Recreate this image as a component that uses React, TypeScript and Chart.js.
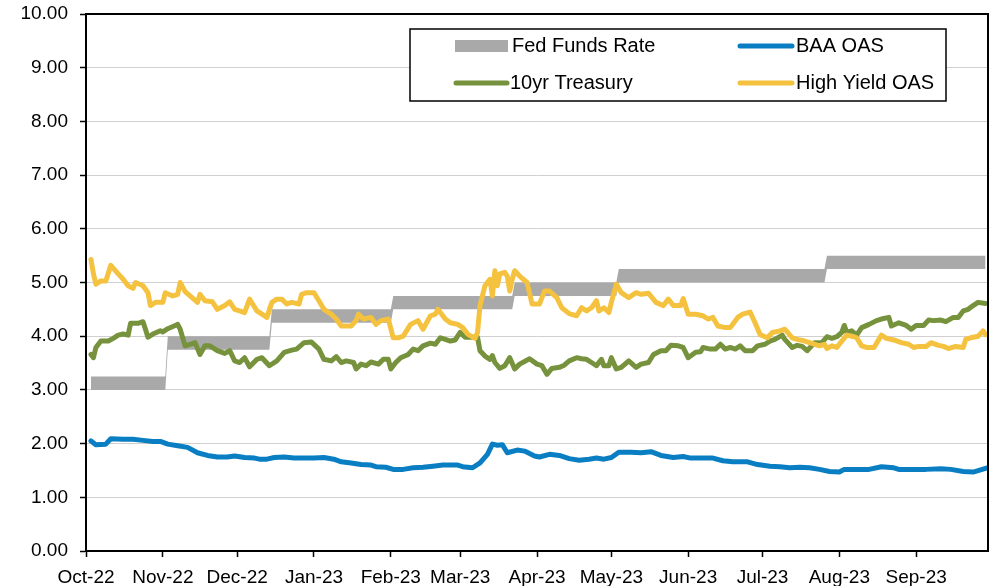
import React, { useEffect, useRef } from 'react';
import { Chart, registerables } from 'chart.js';

Chart.register(...registerables);

// X axis: days since 1 Oct 2022
const monthTickDays = [0, 31, 61, 92, 123, 151, 182, 212, 243, 273, 304, 335];
const monthTickLabels = ['Oct-22', 'Nov-22', 'Dec-22', 'Jan-23', 'Feb-23', 'Mar-23', 'Apr-23', 'May-23', 'Jun-23', 'Jul-23', 'Aug-23', 'Sep-23'];
const xMaxDay = 364;

// Fed Funds target range (lower / upper bound)
const fedDays = [2, 32, 33, 74, 75, 123, 124, 172, 173, 214, 215, 298, 299, 363];
const fedLower = [3.0, 3.0, 3.75, 3.75, 4.25, 4.25, 4.5, 4.5, 4.75, 4.75, 5.0, 5.0, 5.25, 5.25];
const fedUpper = [3.25, 3.25, 4.0, 4.0, 4.5, 4.5, 4.75, 4.75, 5.0, 5.0, 5.25, 5.25, 5.5, 5.5];

// BAA OAS
const baaDays = [2, 4, 8, 10, 15, 19, 23, 27, 30, 33, 37, 41, 45, 49, 53, 57, 60, 64, 68, 70, 73, 76, 80, 84, 88, 92, 96, 100, 103, 107, 111, 115, 117, 121, 124, 128, 132, 136, 140, 144, 150, 152, 156, 159, 162, 164, 166, 168, 170, 174, 177, 181, 183, 187, 191, 195, 199, 203, 206, 209, 212, 215, 220, 224, 228, 232, 237, 241, 244, 249, 253, 257, 261, 267, 271, 276, 280, 284, 288, 292, 296, 300, 304, 306, 311, 316, 321, 326, 328, 334, 339, 345, 349, 354, 358, 361, 364];
const baaValues = [2.05, 1.98, 1.99, 2.09, 2.08, 2.08, 2.06, 2.04, 2.04, 1.99, 1.96, 1.93, 1.83, 1.78, 1.75, 1.75, 1.77, 1.74, 1.73, 1.71, 1.71, 1.74, 1.75, 1.73, 1.73, 1.73, 1.74, 1.71, 1.66, 1.64, 1.61, 1.6, 1.57, 1.56, 1.52, 1.52, 1.55, 1.56, 1.58, 1.6, 1.6, 1.57, 1.55, 1.64, 1.8, 1.99, 1.97, 1.98, 1.83, 1.88, 1.86, 1.77, 1.75, 1.8, 1.78, 1.72, 1.69, 1.71, 1.73, 1.71, 1.74, 1.84, 1.84, 1.83, 1.85, 1.78, 1.74, 1.76, 1.73, 1.73, 1.73, 1.68, 1.66, 1.66, 1.61, 1.58, 1.57, 1.55, 1.56, 1.55, 1.52, 1.48, 1.47, 1.52, 1.52, 1.52, 1.57, 1.55, 1.52, 1.52, 1.52, 1.53, 1.52, 1.48, 1.47, 1.51, 1.55];

// 10yr Treasury
const tenDays = [2, 3, 4, 6, 9, 11, 13, 15, 17, 18, 21, 23, 24, 25, 27, 30, 31, 33, 36, 37, 38, 40, 42, 44, 46, 48, 50, 53, 56, 58, 60, 62, 64, 66, 69, 71, 74, 77, 80, 83, 85, 88, 91, 94, 96, 99, 101, 103, 105, 108, 109, 111, 113, 115, 118, 120, 122, 123, 125, 127, 130, 132, 134, 136, 139, 141, 143, 145, 147, 149, 151, 153, 155, 158, 159, 161, 163, 164, 165, 167, 169, 171, 173, 175, 179, 182, 184, 186, 188, 191, 193, 195, 198, 200, 202, 204, 206, 208, 209, 211, 212, 214, 216, 219, 222, 224, 227, 229, 232, 234, 236, 239, 241, 243, 246, 248, 249, 252, 254, 256, 258, 260, 262, 264, 266, 269, 271, 274, 276, 278, 281, 282, 285, 287, 289, 291, 294, 297, 299, 301, 303, 305, 306, 307, 309, 311, 313, 316, 319, 321, 324, 325, 328, 331, 333, 335, 338, 340, 342, 345, 347, 350, 352, 354, 356, 358, 360, 363];
const tenValues = [3.66, 3.6, 3.79, 3.91, 3.91, 3.96, 4.02, 4.04, 4.02, 4.24, 4.24, 4.27, 4.13, 3.98, 4.04, 4.1, 4.08, 4.14, 4.2, 4.22, 4.13, 3.82, 3.85, 3.88, 3.66, 3.82, 3.82, 3.73, 3.68, 3.73, 3.54, 3.51, 3.6, 3.43, 3.57, 3.6, 3.45, 3.54, 3.7, 3.74, 3.76, 3.88, 3.89, 3.76, 3.57, 3.54, 3.62, 3.51, 3.54, 3.51, 3.39, 3.48, 3.45, 3.52, 3.48, 3.57, 3.57, 3.39, 3.51, 3.6, 3.66, 3.76, 3.73, 3.82, 3.87, 3.85, 3.97, 3.94, 3.91, 3.93, 4.07, 3.98, 3.98, 3.98, 3.73, 3.63, 3.57, 3.64, 3.51, 3.4, 3.45, 3.6, 3.39, 3.48, 3.58, 3.48, 3.45, 3.29, 3.4, 3.42, 3.46, 3.54, 3.6, 3.58, 3.57, 3.51, 3.45, 3.57, 3.45, 3.45, 3.6, 3.39, 3.42, 3.54, 3.42, 3.48, 3.51, 3.66, 3.73, 3.73, 3.83, 3.82, 3.79, 3.6, 3.7, 3.71, 3.79, 3.76, 3.76, 3.85, 3.76, 3.79, 3.76, 3.82, 3.73, 3.73, 3.82, 3.85, 3.91, 3.94, 4.02, 3.94, 3.79, 3.83, 3.81, 3.73, 3.88, 3.88, 3.99, 3.96, 3.99, 4.07, 4.2, 4.07, 4.1, 4.02, 4.16, 4.22, 4.29, 4.32, 4.35, 4.19, 4.25, 4.2, 4.13, 4.2, 4.2, 4.3, 4.29, 4.3, 4.27, 4.35, 4.35, 4.47, 4.5, 4.57, 4.63, 4.61];

// High Yield OAS
const hyDays = [2, 3, 4, 6, 8, 10, 13, 15, 17, 19, 20, 23, 25, 26, 28, 31, 32, 35, 37, 38, 40, 42, 45, 46, 48, 51, 53, 56, 58, 60, 62, 64, 66, 69, 71, 73, 75, 77, 79, 81, 83, 86, 87, 89, 92, 94, 96, 99, 101, 103, 107, 109, 110, 112, 115, 117, 119, 122, 124, 126, 128, 131, 134, 136, 139, 141, 142, 145, 147, 150, 152, 154, 157, 158, 159, 161, 163, 164, 165, 166, 167, 169, 170, 171, 172, 173, 175, 178, 180, 183, 185, 187, 190, 192, 195, 198, 200, 202, 204, 206, 207, 209, 211, 212, 214, 216, 219, 222, 224, 227, 230, 233, 235, 237, 240, 241, 243, 246, 249, 251, 253, 255, 258, 260, 263, 265, 268, 270, 272, 275, 277, 280, 282, 285, 287, 290, 292, 296, 298, 299, 301, 303, 305, 307, 310, 311, 313, 315, 318, 321, 323, 326, 329, 332, 334, 336, 339, 341, 344, 346, 348, 351, 354, 355, 357, 360, 362, 363];
const hyValues = [5.43, 5.16, 4.97, 5.03, 5.03, 5.32, 5.16, 5.06, 4.94, 4.89, 5.0, 4.94, 4.81, 4.57, 4.63, 4.63, 4.81, 4.75, 4.78, 5.0, 4.83, 4.75, 4.63, 4.78, 4.66, 4.64, 4.5, 4.57, 4.64, 4.5, 4.47, 4.44, 4.69, 4.47, 4.41, 4.35, 4.63, 4.69, 4.69, 4.6, 4.63, 4.6, 4.78, 4.81, 4.81, 4.66, 4.5, 4.41, 4.32, 4.19, 4.19, 4.29, 4.41, 4.32, 4.35, 4.22, 4.29, 4.32, 3.97, 3.97, 4.0, 4.22, 4.29, 4.13, 4.38, 4.41, 4.5, 4.32, 4.25, 4.22, 4.16, 4.04, 3.96, 4.07, 4.57, 4.94, 5.06, 4.75, 5.22, 4.94, 5.16, 5.19, 5.12, 4.84, 5.06, 5.22, 5.12, 5.0, 4.6, 4.6, 4.84, 4.84, 4.72, 4.53, 4.42, 4.38, 4.53, 4.47, 4.53, 4.66, 4.47, 4.53, 4.44, 4.63, 4.97, 4.81, 4.72, 4.81, 4.78, 4.8, 4.63, 4.57, 4.69, 4.57, 4.57, 4.7, 4.41, 4.41, 4.38, 4.32, 4.35, 4.19, 4.16, 4.16, 4.35, 4.41, 4.45, 4.25, 4.03, 3.97, 4.07, 4.1, 4.13, 3.97, 3.94, 3.91, 3.88, 3.82, 3.85, 3.77, 3.82, 3.79, 3.91, 4.02, 3.99, 3.97, 3.82, 3.79, 3.79, 4.02, 3.96, 3.93, 3.88, 3.85, 3.79, 3.81, 3.81, 3.88, 3.83, 3.81, 3.77, 3.81, 3.79, 3.94, 3.97, 4.0, 4.1, 4.03];

const FONT = "'Liberation Sans', Arial, sans-serif";
const GRAY = '#A9A9A9';
const BLUE = '#0A7EC2';
const GREEN = '#76923C';
const YELLOW = '#F4C23E';

const toXY = (days: number[], vals: number[]) => days.map((d, i) => ({ x: d, y: vals[i] }));

const frameAndLegend = {
  id: 'frameAndLegend',
  afterDraw(chart: any) {
    const { ctx, chartArea } = chart;
    ctx.save();
    // top and right frame
    ctx.strokeStyle = '#000';
    ctx.lineWidth = 2;
    ctx.beginPath();
    ctx.moveTo(chartArea.left, chartArea.top);
    ctx.lineTo(chartArea.right, chartArea.top);
    ctx.lineTo(chartArea.right, chartArea.bottom);
    ctx.stroke();

    // legend box
    const bx = 410, by = 29, bw = 536, bh = 72;
    ctx.fillStyle = '#fff';
    ctx.fillRect(bx, by, bw, bh);
    ctx.lineWidth = 1.5;
    ctx.strokeStyle = '#000';
    ctx.strokeRect(bx, by, bw, bh);

    const row1 = 46, row2 = 83;
    ctx.font = `20px ${FONT}`;
    ctx.textBaseline = 'middle';
    ctx.textAlign = 'left';

    // Fed Funds swatch
    ctx.fillStyle = GRAY;
    ctx.fillRect(455, row1 - 6, 53, 12);
    ctx.fillStyle = '#000';
    ctx.fillText('Fed Funds Rate', 512, row1);

    const lineSwatch = (x1: number, x2: number, y: number, color: string) => {
      ctx.strokeStyle = color;
      ctx.lineWidth = 5;
      ctx.lineCap = 'round';
      ctx.beginPath();
      ctx.moveTo(x1, y);
      ctx.lineTo(x2, y);
      ctx.stroke();
    };
    lineSwatch(740, 792, row1, BLUE);
    ctx.fillStyle = '#000';
    ctx.fillText('BAA OAS', 796, row1);

    lineSwatch(456, 507, row2, GREEN);
    ctx.fillStyle = '#000';
    ctx.fillText('10yr Treasury', 510, row2);

    lineSwatch(740, 792, row2, YELLOW);
    ctx.fillStyle = '#000';
    ctx.fillText('High Yield OAS', 796, row2);
    ctx.restore();
  },
};

export default function App() {
  const canvasRef = useRef<HTMLCanvasElement | null>(null);

  useEffect(() => {
    document.body.style.margin = '0';
    const canvas = canvasRef.current;
    if (!canvas) return;
    const lineCommon = {
      pointRadius: 0,
      pointHoverRadius: 0,
      borderWidth: 5,
      tension: 0,
      borderJoinStyle: 'round' as const,
      borderCapStyle: 'round' as const,
      fill: false,
    };
    const chart = new Chart(canvas, {
      type: 'line',
      data: {
        datasets: [
          {
            label: 'Fed Funds Lower',
            data: toXY(fedDays, fedLower),
            borderWidth: 0,
            borderColor: 'rgba(0,0,0,0)',
            pointRadius: 0,
            fill: false,
            order: 5,
          },
          {
            label: 'Fed Funds Rate',
            data: toXY(fedDays, fedUpper),
            borderWidth: 0,
            borderColor: 'rgba(0,0,0,0)',
            backgroundColor: GRAY,
            pointRadius: 0,
            fill: '-1',
            order: 4,
          },
          { label: 'BAA OAS', data: toXY(baaDays, baaValues), borderColor: BLUE, order: 3, ...lineCommon },
          { label: '10yr Treasury', data: toXY(tenDays, tenValues), borderColor: GREEN, order: 2, ...lineCommon },
          { label: 'High Yield OAS', data: toXY(hyDays, hyValues), borderColor: YELLOW, order: 1, ...lineCommon },
        ],
      },
      options: {
        animation: false,
        responsive: false,
        maintainAspectRatio: false,
        layout: { padding: { left: 0, top: 14, right: 2, bottom: 0 } },
        plugins: {
          legend: { display: false },
          tooltip: { enabled: false },
          filler: { propagate: false },
        },
        scales: {
          x: {
            type: 'linear',
            min: 0,
            max: xMaxDay,
            afterBuildTicks: (scale: any) => {
              scale.ticks = monthTickDays.map((v) => ({ value: v }));
            },
            afterFit: (scale: any) => {
              scale.height = 35;
              scale.paddingLeft = 0;
              scale.paddingRight = 0;
            },
            ticks: {
              autoSkip: false,
              maxRotation: 0,
              padding: 9,
              color: '#000',
              font: { family: FONT, size: 19 },
              callback: (_v: any, i: number) => monthTickLabels[i],
            },
            grid: { drawOnChartArea: false, drawTicks: true, tickLength: 6, tickColor: '#000', tickWidth: 1.5 },
            border: { color: '#000', width: 2 },
          },
          y: {
            min: 0,
            max: 10,
            afterFit: (scale: any) => {
              scale.width = 86;
              scale.paddingTop = 0;
              scale.paddingBottom = 0;
            },
            ticks: {
              stepSize: 1,
              padding: 12,
              color: '#000',
              font: { family: FONT, size: 19 },
              callback: (v: any) => Number(v).toFixed(2),
            },
            grid: { color: '#D0D0D0', lineWidth: 1, tickLength: 6, tickColor: '#000', tickWidth: 1.5 },
            border: { color: '#000', width: 2 },
          },
        },
      },
      plugins: [frameAndLegend],
    });
    return () => chart.destroy();
  }, []);

  return (
    <div style={{ width: 990, height: 586, background: '#fff' }}>
      <canvas ref={canvasRef} width={990} height={586} style={{ display: 'block' }} />
    </div>
  );
}
